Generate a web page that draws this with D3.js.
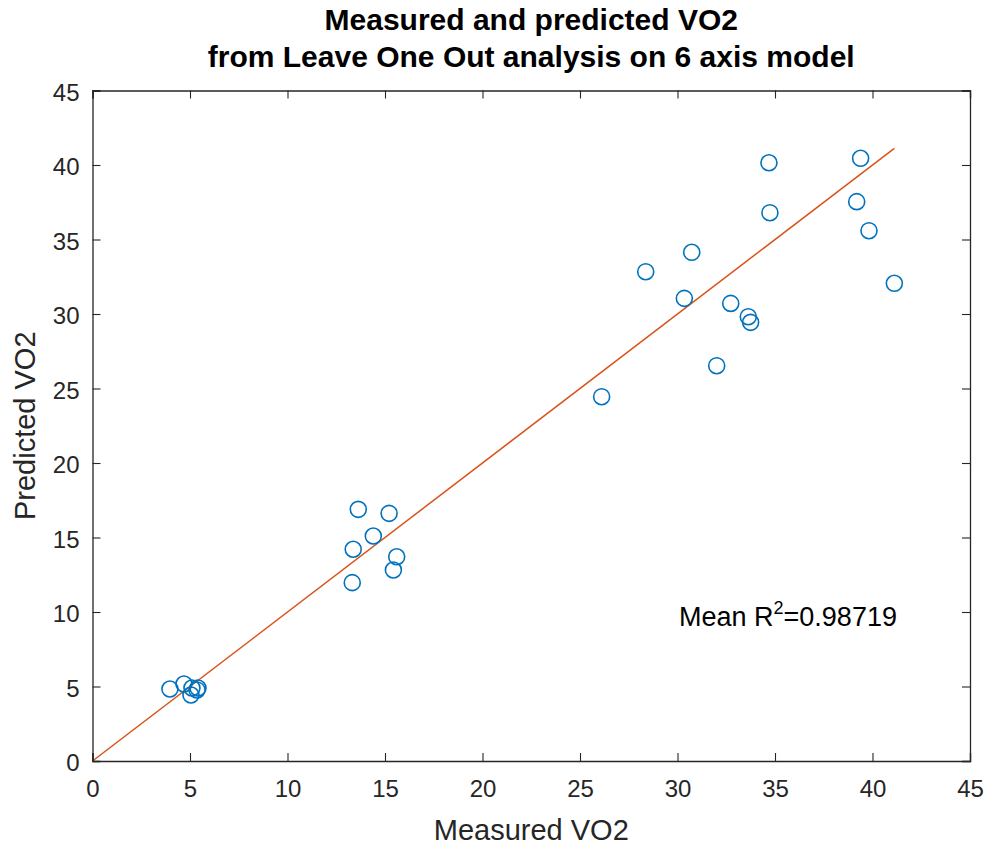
<!DOCTYPE html>
<html>
<head>
<meta charset="utf-8">
<script src="https://cdn.jsdelivr.net/npm/d3@7"></script>
<style>
  html, body { margin: 0; padding: 0; background: #fff; }
  text { font-family: "Liberation Sans", Arial, Helvetica, sans-serif; }
</style>
</head>
<body>
<svg id="chart" width="993" height="851"></svg>
<script>
const measured = [3.97, 4.69, 5.10, 5.36, 5.41, 5.05,
  13.63, 15.21, 14.40, 13.37, 15.60, 15.43, 13.32,
  26.11, 28.37, 30.73, 30.35, 32.73, 33.63, 33.75, 32.01,
  34.69, 34.74, 39.39, 39.19, 39.82, 41.12];
const predicted = [4.83, 5.17, 4.90, 4.77, 4.90, 4.43,
  16.89, 16.62, 15.10, 14.21, 13.71, 12.82, 11.97,
  24.45, 32.84, 34.14, 31.05, 30.71, 29.82, 29.44, 26.53,
  40.15, 36.80, 40.45, 37.54, 35.59, 32.06];
const ticks = [0, 5, 10, 15, 20, 25, 30, 35, 40, 45];
const titleLines = ["Measured and predicted VO2", "from Leave One Out analysis on 6 axis model"];
const xLabel = "Measured VO2";
const yLabel = "Predicted VO2";
const r2Text = "0.98719";

const svg = d3.select("#chart");
const pL = 92.5, pR = 970, pT = 90.5, pB = 761;
const x = d3.scaleLinear().domain([0, 45]).range([pL, pR]);
const y = d3.scaleLinear().domain([0, 45]).range([pB, pT]);
const axisColor = "#262626";

// identity line up to max measured
const maxV = d3.max(measured);
svg.append("line")
  .attr("x1", x(0)).attr("y1", y(0))
  .attr("x2", x(maxV)).attr("y2", y(maxV))
  .attr("stroke", "#D95319").attr("stroke-width", 1.5);

// points
svg.append("g").selectAll("circle")
  .data(measured.map((m, i) => [m, predicted[i]]))
  .join("circle")
  .attr("cx", d => x(d[0])).attr("cy", d => y(d[1]))
  .attr("r", 8)
  .attr("fill", "none")
  .attr("stroke", "#0072BD")
  .attr("stroke-width", 1.6);

// axes
const tl = 8;
const gB = svg.append("g").attr("transform", `translate(0,${pB})`)
  .call(d3.axisBottom(x).tickValues(ticks).tickSize(-tl).tickPadding(19).tickFormat(d3.format("d")));
const gT = svg.append("g").attr("transform", `translate(0,${pT})`)
  .call(d3.axisTop(x).tickValues(ticks).tickSize(-tl).tickFormat(""));
const gL = svg.append("g").attr("transform", `translate(${pL},0)`)
  .call(d3.axisLeft(y).tickValues(ticks).tickSize(-tl).tickPadding(13).tickFormat(d3.format("d")));
const gR = svg.append("g").attr("transform", `translate(${pR},0)`)
  .call(d3.axisRight(y).tickValues(ticks).tickSize(-tl).tickFormat(""));
[gB, gT, gL, gR].forEach(g => {
  g.select(".domain").attr("stroke", axisColor).attr("stroke-width", 1.3);
  g.selectAll(".tick line").attr("stroke", axisColor).attr("stroke-width", 1.1);
  g.selectAll(".tick text").attr("fill", axisColor)
    .style("font-family", '"Liberation Sans", Arial, sans-serif').style("font-size", "24px");
});
gB.selectAll(".tick text").attr("dy", "0.71em");
gL.selectAll(".tick text").attr("dy", "0.4em");

// title
svg.append("g").selectAll("text").data(titleLines).join("text")
  .attr("x", (pL + pR) / 2).attr("y", (d, i) => 30 + i * 37)
  .attr("text-anchor", "middle")
  .attr("font-weight", "bold").attr("font-size", "30px").attr("fill", "#000")
  .text(d => d);

// axis labels
svg.append("text").attr("x", (pL + pR) / 2).attr("y", 840)
  .attr("text-anchor", "middle").attr("font-size", "29px").attr("fill", axisColor)
  .text(xLabel);
svg.append("text").attr("transform", `translate(35,${(pT + pB) / 2}) rotate(-90)`)
  .attr("text-anchor", "middle").attr("font-size", "29px").attr("fill", axisColor)
  .text(yLabel);

// annotation
const ann = svg.append("text").attr("x", 679).attr("y", 626)
  .attr("font-size", "27px").attr("fill", "#000");
ann.append("tspan").text("Mean R");
ann.append("tspan").attr("dy", -12).attr("font-size", "18px").text("2");
ann.append("tspan").attr("dy", 12).text("=" + r2Text);
</script>
</body>
</html>
